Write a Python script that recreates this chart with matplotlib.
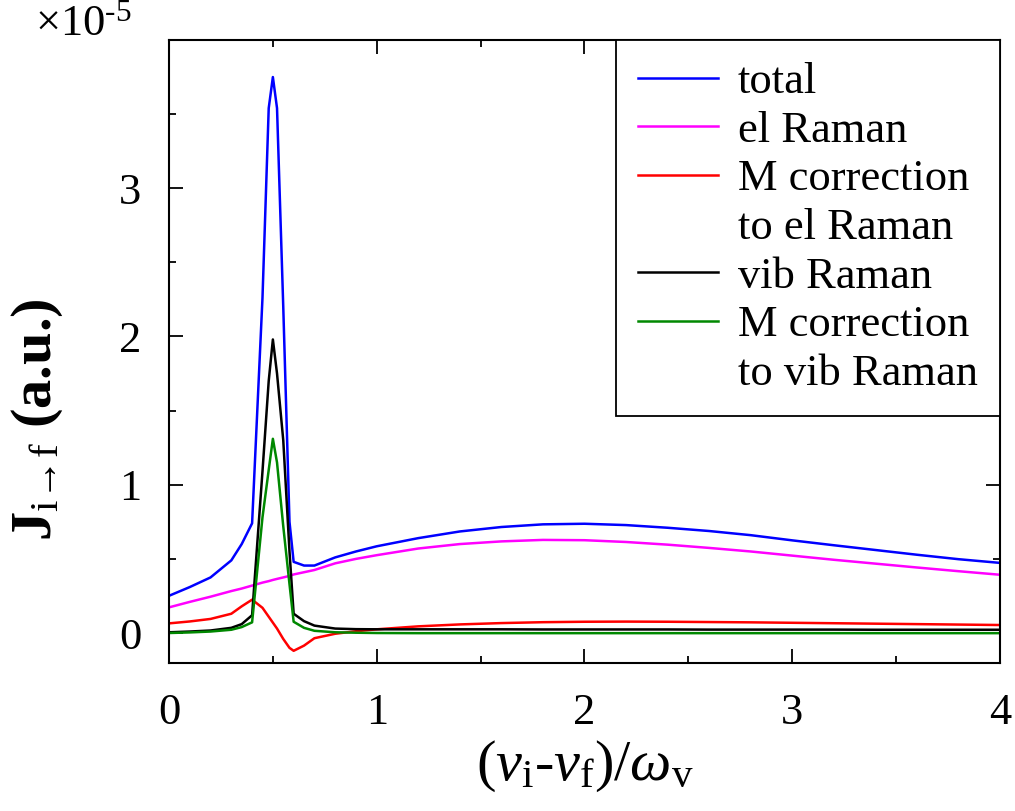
import numpy as np
import matplotlib
matplotlib.use("Agg")
import matplotlib.pyplot as plt
from matplotlib.lines import Line2D
from matplotlib.ticker import MultipleLocator

plt.rcParams['font.family'] = ['Liberation Serif', 'DejaVu Serif']
plt.rcParams['mathtext.fontset'] = 'custom'
plt.rcParams['mathtext.rm'] = 'Liberation Serif'
plt.rcParams['mathtext.it'] = 'Liberation Serif:italic'
plt.rcParams['mathtext.bf'] = 'Liberation Serif:bold'

# detuning (nu_i - nu_f)/omega_v
x = [0.0, 0.1, 0.2, 0.3, 0.35, 0.4, 0.45, 0.48, 0.5, 0.52, 0.55, 0.58, 0.6,
     0.65, 0.7, 0.8, 0.9, 1.0, 1.2, 1.4, 1.6, 1.8, 2.0, 2.2, 2.4, 2.6, 2.8,
     3.0, 3.2, 3.4, 3.6, 3.8, 4.0]

# intensities in units of 1e-5
total = [0.251, 0.31, 0.375, 0.49, 0.60, 0.74, 2.26, 3.54, 3.75, 3.54, 2.20, 0.75, 0.48,
         0.455, 0.455, 0.51, 0.55, 0.585, 0.64, 0.685, 0.715, 0.733, 0.737, 0.728, 0.71,
         0.688, 0.66, 0.625, 0.592, 0.56, 0.528, 0.498, 0.473]
el_raman = [0.173, 0.21, 0.245, 0.283, 0.30, 0.32, 0.34, 0.35, 0.358, 0.365, 0.375, 0.385, 0.395,
            0.41, 0.425, 0.47, 0.50, 0.525, 0.57, 0.60, 0.618, 0.628, 0.626, 0.614, 0.596,
            0.574, 0.55, 0.522, 0.494, 0.468, 0.442, 0.417, 0.393]
m_corr_el = [0.065, 0.078, 0.095, 0.13, 0.18, 0.225, 0.17, 0.11, 0.07, 0.03, -0.04, -0.10, -0.12,
             -0.085, -0.035, -0.005, 0.012, 0.025, 0.045, 0.058, 0.067, 0.073, 0.076, 0.077, 0.076,
             0.074, 0.072, 0.069, 0.066, 0.063, 0.06, 0.057, 0.054]
vib_raman = [0.005, 0.01, 0.017, 0.035, 0.06, 0.12, 1.09, 1.70, 1.98, 1.75, 1.30, 0.55, 0.13,
             0.08, 0.05, 0.03, 0.026, 0.025, 0.025, 0.025, 0.025, 0.024, 0.024, 0.024, 0.024,
             0.023, 0.023, 0.023, 0.023, 0.022, 0.022, 0.022, 0.022]
m_corr_vib = [0.0, 0.004, 0.01, 0.022, 0.04, 0.072, 0.78, 1.10, 1.31, 1.15, 0.72, 0.33, 0.076,
              0.035, 0.015, 0.005, 0.002, 0.0, -0.001, -0.001, -0.001, -0.001, -0.001, -0.001, -0.001,
              -0.001, -0.001, -0.001, -0.001, -0.001, -0.001, -0.001, -0.001]

series = [
    (total, '#0000ff', 'total'),
    (el_raman, '#ff00ff', 'el Raman'),
    (m_corr_el, '#ff0000', 'M correction\nto el Raman'),
    (vib_raman, '#000000', 'vib Raman'),
    (m_corr_vib, '#008800', 'M correction\nto vib Raman'),
]

fig = plt.figure(figsize=(10.15, 8.11), dpi=100)
ax = fig.add_axes([0.1665, 0.1829, 0.8187, 0.7678])

# one legend row per text line, handle only on the first line of an entry
handles, labels = [], []
for y, c, lab in series:
    ax.plot(x, y, color=c, lw=1.8)
    parts = lab.split('\n')
    handles.append(Line2D([], [], color=c, lw=1.8))
    labels.append(parts[0])
    for extra in parts[1:]:
        handles.append(Line2D([], [], color='none'))
        labels.append(extra)

ax.set_xlim(0, 4)
ax.set_ylim(-0.2, 4)
ax.xaxis.set_major_locator(MultipleLocator(1))
ax.xaxis.set_minor_locator(MultipleLocator(0.5))
ax.yaxis.set_minor_locator(MultipleLocator(0.5))
ax.set_yticks([0, 1, 2, 3])
ax.tick_params(which='both', direction='in', top=True, right=True, width=1.3)
ax.tick_params(which='major', length=10, labelsize=32)
ax.tick_params(which='minor', length=5)
ax.tick_params(axis='x', which='major', pad=22)
ax.tick_params(axis='y', which='major', pad=20)
for s in ax.spines.values():
    s.set_linewidth(1.5)

ax.set_xlabel(r'($\nu_{\mathrm{i}}$-$\nu_{\mathrm{f}}$)/$\omega_{\mathrm{v}}$', fontsize=42, labelpad=4)
ax.set_ylabel(r'J$_{\mathrm{i\!\rightarrow\!f}}$ (a.u.)', fontsize=42, fontweight='bold')
ax.yaxis.set_label_coords(-0.125, 0.39)
fig.text(0.0345, 0.957, r'$\times$10$^{\text{-5}}$', fontsize=32, va='baseline', ha='left')

leg = ax.legend(handles, labels, loc='upper right', bbox_to_anchor=(1, 1), borderaxespad=0,
                fontsize=32, frameon=True, fancybox=False, framealpha=1, edgecolor='black',
                handlelength=1.8, handletextpad=0.45, labelspacing=0.19, borderpad=0.5)
leg.get_frame().set_linewidth(1.3)

fig.savefig('out.png', dpi=100)
